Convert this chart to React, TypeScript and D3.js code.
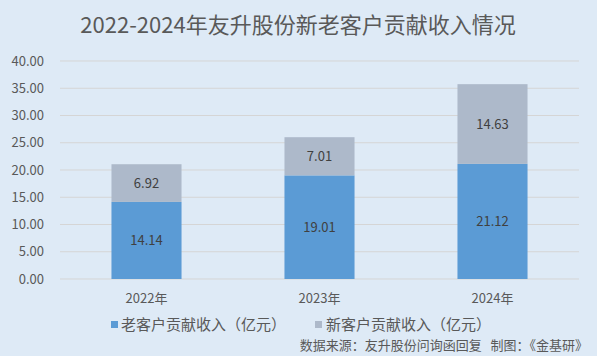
import React from "react";
import * as d3 from "d3";

const categories = ["2022年", "2023年", "2024年"];
const oldCustomer = [14.14, 19.01, 21.12];
const newCustomer = [6.92, 7.01, 14.63];
const yTicks = [0, 5, 10, 15, 20, 25, 30, 35, 40];
const seriesNames = ["老客户贡献收入（亿元）", "新客户贡献收入（亿元）"];
const title = "2022-2024年友升股份新老客户贡献收入情况";
const source = "数据来源：友升股份问询函回复   制图：《金基研》";

const W = 597, H = 356;
const font = "'Noto Sans CJK SC', 'Microsoft YaHei', sans-serif";
const textColor = "#595959";

export default function App() {
  const x = d3.scaleBand().domain(categories).range([60, 579]).paddingInner(0.595).paddingOuter(0.2975);
  const y = d3.scaleLinear().domain([0, 40]).range([279, 61]);
  return (
    <svg width={W} height={H} style={{ position: "absolute", left: 0, top: 0 }} fontFamily={font}>
      <rect x={0} y={0} width={W} height={H} fill="#deeaf6" />
      <text x={298} y={33} textAnchor="middle" fontSize={22} fill={textColor}>{title}</text>
      {yTicks.map((t) => (
        <g key={t}>
          <line x1={60} x2={579} y1={y(t)} y2={y(t)} stroke="#d5d5d5" strokeWidth={1} />
          <text x={44} y={y(t)} dy="0.35em" textAnchor="end" fontSize={13} fill={textColor}>{t.toFixed(2)}</text>
        </g>
      ))}
      {categories.map((c, i) => {
        const bx = x(c)!;
        const bw = x.bandwidth();
        const y0 = y(0), y1 = y(oldCustomer[i]), y2 = y(oldCustomer[i] + newCustomer[i]);
        return (
          <g key={c}>
            <rect x={bx} y={y1} width={bw} height={y0 - y1} fill="#5b9bd5" />
            <rect x={bx} y={y2} width={bw} height={y1 - y2} fill="#adb9ca" />
            <text x={bx + bw / 2} y={(y0 + y1) / 2} dy="0.35em" textAnchor="middle" fontSize={13} fill="#404040">{oldCustomer[i].toFixed(2)}</text>
            <text x={bx + bw / 2} y={(y1 + y2) / 2} dy="0.35em" textAnchor="middle" fontSize={13} fill="#404040">{newCustomer[i].toFixed(2)}</text>
            <text x={bx + bw / 2} y={298} dy="0.35em" textAnchor="middle" fontSize={13} fill={textColor}>{c}</text>
          </g>
        );
      })}
      <rect x={111} y={321} width={7} height={7} fill="#5b9bd5" />
      <text x={121} y={325} dy="0.35em" fontSize={15} fill={textColor}>{seriesNames[0]}</text>
      <rect x={315} y={321} width={7} height={7} fill="#adb9ca" />
      <text x={326} y={325} dy="0.35em" fontSize={15} fill={textColor}>{seriesNames[1]}</text>
      <text x={588} y={345} dy="0.35em" textAnchor="end" fontSize={13} fill={textColor} style={{ whiteSpace: "pre" }}>{source}</text>
    </svg>
  );
}
